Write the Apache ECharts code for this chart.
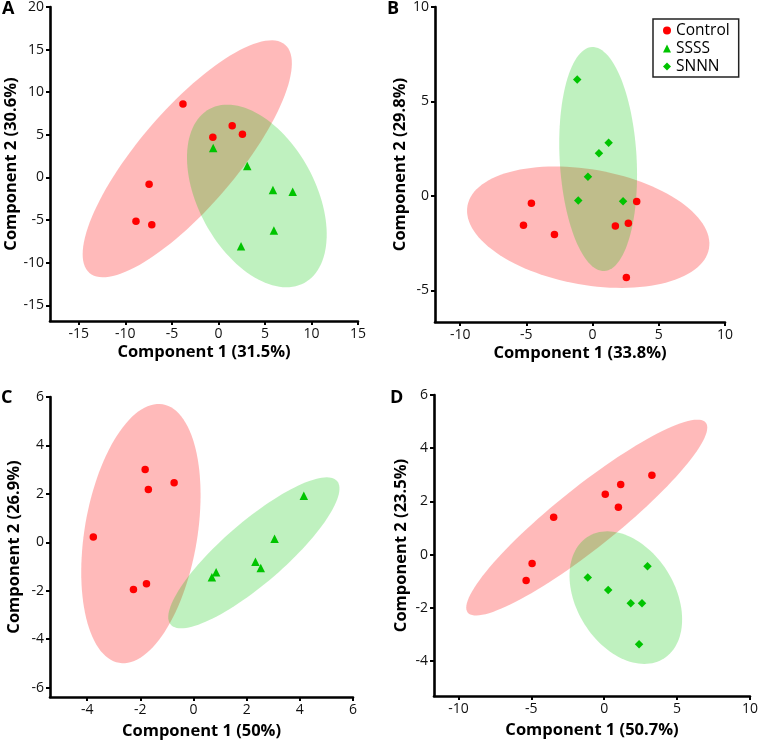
<!DOCTYPE html>
<html>
<head>
<meta charset="utf-8">
<script src="https://cdn.jsdelivr.net/npm/echarts@6/dist/echarts.min.js"></script>
<style>html,body{margin:0;padding:0;background:#fff}#c{width:761px;height:743px}</style>
</head>
<body>
<div id="c"></div>
<script>
// ---- data ----
const aControl = [[-3.81,8.62],[-0.6,4.73],[1.48,6.08],[2.58,5.08],[-7.45,-0.81],[-8.86,-5.15],[-7.16,-5.54]];
const aSSSS = [[-0.56,3.46],[3.1,1.35],[5.86,-1.46],[7.98,-1.69],[5.96,-6.23],[2.43,-8.08]];
const bControl = [[-4.62,-0.39],[-5.22,-1.56],[-2.88,-2.05],[1.72,-1.59],[2.70,-1.45],[3.33,-0.30],[2.55,-4.32]];
const bSNNN = [[-1.16,6.16],[1.21,2.81],[0.48,2.26],[-0.35,1.01],[-1.08,-0.25],[2.30,-0.28]];
const cControl = [[-1.82,3.01],[-1.70,2.18],[-0.73,2.46],[-3.77,0.22],[-1.77,-1.71],[-2.26,-1.95]];
const cSSSS = [[4.15,1.92],[3.05,0.15],[2.33,-0.80],[2.53,-1.06],[0.85,-1.24],[0.69,-1.44]];
const dControl = [[3.27,2.98],[1.13,2.63],[0.07,2.27],[0.97,1.78],[-3.47,1.40],[-4.95,-0.34],[-5.36,-0.98]];
const dSNNN = [[2.97,-0.44],[-1.13,-0.86],[0.27,-1.33],[1.82,-1.83],[2.59,-1.83],[2.39,-3.37]];

// ellipses: [centerX, centerY, majorTipX, majorTipY, minorTipX, minorTipY] (data units)
const aEllipseControl = [-3.35, 2.19, 7.16, 15.58, 0.64, -1.54];
const aEllipseSSSS = [4.13, -2.17, 9.23, -12.37, 9.64, 1.11];
const bEllipseControl = [-0.33, -1.66, 8.79, -2.79, 0.43, 1.35];
const bEllipseSNNN = [0.42, 1.95, 0.89, -3.98, 3.32, 2.06];
const cEllipseControl = [-1.98, 0.36, -1.16, 5.70, 0.11, -0.03];
const cEllipseSSSS = [2.27, -0.435, 5.40, 2.53, 3.03, -1.40];
const dEllipseControl = [-1.20, 1.39, 6.97, 4.96, 0.08, 0.48];
const dEllipseSNNN = [1.48, -1.62, 4.12, -3.90, 4.30, -0.61];

const panelLetters = ['A','B','C','D'];
const xNames = ['Component 1 (31.5%)','Component 1 (33.8%)','Component 1 (50%)','Component 1 (50.7%)'];
const yNames = ['Component 2 (30.6%)','Component 2 (29.8%)','Component 2 (26.9%)','Component 2 (23.5%)'];
const xTicks = [[-15,-10,-5,0,5,10,15],[-10,-5,0,5,10],[-4,-2,0,2,4,6],[-10,-5,0,5,10]];
const yTicks = [[-15,-10,-5,0,5,10,15,20],[-5,0,5,10],[-6,-4,-2,0,2,4,6],[-4,-2,0,2,4,6]];
const xRange = [[-18.1,15],[-11.9,10],[-5.4,6],[-11.68,10]];
const yRange = [[-16.84,20],[-6.68,10],[-6.39,6],[-5.32,6]];

// ---- styles ----
const FONT = "'Open Sans', 'DejaVu Sans', sans-serif";
const RED = '#ff0000', GREEN = '#00c400';
const RED_FILL = 'rgba(255,0,0,0.27)', GREEN_FILL = 'rgba(0,200,0,0.25)';

const grids = [
  {left:50, top:5.5, width:308, height:315.5},
  {left:435, top:7, width:290, height:315},
  {left:50, top:397, width:303, height:300},
  {left:434, top:395, width:319, height:301}
];
const yNameGap = [30, 21, 27, 24];
const xNameGap = [23, 23, 26, 26];

function axisCommon(){
  return {
    type:'value',
    axisLine:{show:true, onZero:false, lineStyle:{color:'#000', width:2.6}},
    axisTick:{show:true, length:4, lineStyle:{color:'#000', width:2}},
    splitLine:{show:false},
    axisLabel:{fontFamily:FONT, fontSize:14, color:'#111', margin:6},
    nameLocation:'middle',
    nameTextStyle:{fontFamily:FONT, fontSize:16.5, fontWeight:'bold', color:'#000'}
  };
}
const xAxes = [], yAxes = [];
for (let i=0;i<4;i++){
  const xa = axisCommon();
  xa.gridIndex = i; xa.min = xRange[i][0]; xa.max = xRange[i][1];
  xa.axisTick.customValues = xTicks[i];
  xa.axisLabel.customValues = xTicks[i];
  xa.name = xNames[i]; xa.nameGap = xNameGap[i];
  xAxes.push(xa);
  const ya = axisCommon();
  ya.gridIndex = i; ya.min = yRange[i][0]; ya.max = yRange[i][1];
  ya.axisTick.customValues = yTicks[i];
  ya.axisLabel.customValues = yTicks[i];
  ya.name = yNames[i]; ya.nameGap = yNameGap[i]; ya.nameRotate = 90;
  yAxes.push(ya);
}

function ellipseSeries(idx, params, fill){
  return {
    type:'custom', xAxisIndex:idx, yAxisIndex:idx, silent:true, z:1,
    data:[params],
    renderItem:function(p, api){
      const cx=api.value(0), cy=api.value(1);
      const ux=api.value(2)-cx, uy=api.value(3)-cy;
      const vx=api.value(4)-cx, vy=api.value(5)-cy;
      const pts=[];
      const N=120;
      for(let k=0;k<N;k++){
        const t=k/N*Math.PI*2;
        pts.push(api.coord([cx+ux*Math.cos(t)+vx*Math.sin(t), cy+uy*Math.cos(t)+vy*Math.sin(t)]));
      }
      return {type:'polygon', shape:{points:pts}, style:{fill:fill, stroke:null}};
    }
  };
}
function scatter(idx, name, data, symbol, size, color){
  return {type:'scatter', name:name, xAxisIndex:idx, yAxisIndex:idx, data:data,
    symbol:symbol, symbolSize:size, itemStyle:{color:color, opacity:1}, z:5, emphasis:{disabled:true}};
}

const series = [
  ellipseSeries(0, aEllipseControl, RED_FILL), ellipseSeries(0, aEllipseSSSS, GREEN_FILL),
  ellipseSeries(1, bEllipseControl, RED_FILL), ellipseSeries(1, bEllipseSNNN, GREEN_FILL),
  ellipseSeries(2, cEllipseControl, RED_FILL), ellipseSeries(2, cEllipseSSSS, GREEN_FILL),
  ellipseSeries(3, dEllipseControl, RED_FILL), ellipseSeries(3, dEllipseSNNN, GREEN_FILL),
  scatter(0,'Control',aControl,'circle',7.5,RED), scatter(0,'SSSS',aSSSS,'triangle',8.5,GREEN),
  scatter(1,'Control',bControl,'circle',7.5,RED), scatter(1,'SNNN',bSNNN,'diamond',8.5,GREEN),
  scatter(2,'Control',cControl,'circle',7.5,RED), scatter(2,'SSSS',cSSSS,'triangle',8.5,GREEN),
  scatter(3,'Control',dControl,'circle',7.5,RED), scatter(3,'SNNN',dSNNN,'diamond',8.5,GREEN)
];

const letterPos = [[2,0],[387,0],[1,389],[390,389]];
const titles = panelLetters.map((t,i)=>({text:t, left:letterPos[i][0], top:letterPos[i][1], padding:0,
  textStyle:{fontFamily:FONT, fontSize:18, fontWeight:'bold', color:'#000'}}));

const option = {
  animation:false,
  backgroundColor:'#fff',
  title: titles,
  grid: grids,
  xAxis: xAxes,
  yAxis: yAxes,
  legend:{
    orient:'vertical', left:653, top:19,
    data:[{name:'Control', icon:'circle'},{name:'SSSS', icon:'triangle'},{name:'SNNN', icon:'diamond'}],
    borderColor:'#222', borderWidth:1.5, padding:[3,9,2,10],
    itemWidth:8, itemHeight:8, itemGap:1,
    textStyle:{fontFamily:FONT, fontSize:15.5, color:'#000', lineHeight:17},
    selectedMode:false
  },
  series: series
};
const chart = echarts.init(document.getElementById('c'), null, {renderer:'canvas'});
chart.setOption(option);
</script>
</body>
</html>
